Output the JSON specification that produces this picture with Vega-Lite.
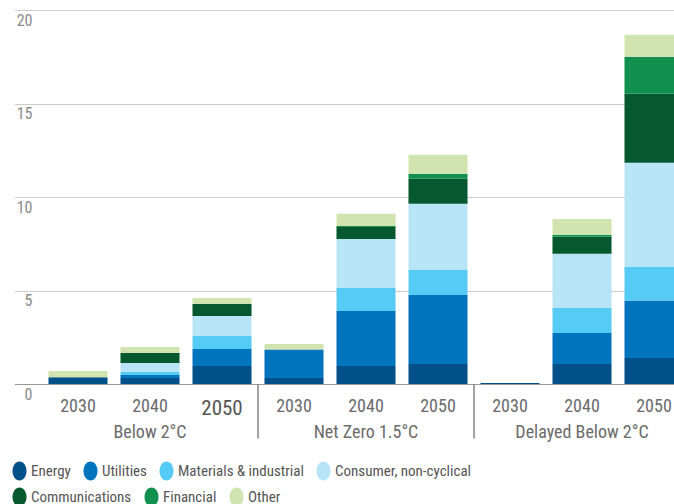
{
  "$schema": "https://vega.github.io/schema/vega-lite/v6.json",
  "width": 703,
  "height": 374,
  "padding": {"left": 9.5, "top": 10, "right": 0, "bottom": 0},
  "config": {
    "view": {"stroke": null},
    "font": "Roboto Condensed, Liberation Sans Narrow",
    "legend": {
      "title": null,
      "orient": "none",
      "direction": "horizontal",
      "symbolType": "M0,-1A0.737,1,0,1,1,0,1A0.737,1,0,1,1,0,-1Z",
      "symbolSize": 361,
      "symbolStrokeWidth": 0,
      "symbolOpacity": 1,
      "labelFontSize": 15,
      "labelColor": "#555555",
      "labelOffset": 2,
      "labelLimit": 300,
      "columnPadding": 10
    }
  },
  "data": {
    "values": [
      {"scenario": "Below 2°C", "bar": "Below 2°C|2030", "sector": "Energy", "value": 0.36},
      {"scenario": "Below 2°C", "bar": "Below 2°C|2030", "sector": "Other", "value": 0.34},
      {"scenario": "Below 2°C", "bar": "Below 2°C|2040", "sector": "Energy", "value": 0.32},
      {"scenario": "Below 2°C", "bar": "Below 2°C|2040", "sector": "Utilities", "value": 0.16},
      {"scenario": "Below 2°C", "bar": "Below 2°C|2040", "sector": "Materials & industrial", "value": 0.16},
      {"scenario": "Below 2°C", "bar": "Below 2°C|2040", "sector": "Consumer, non-cyclical", "value": 0.48},
      {"scenario": "Below 2°C", "bar": "Below 2°C|2040", "sector": "Communications", "value": 0.54},
      {"scenario": "Below 2°C", "bar": "Below 2°C|2040", "sector": "Other", "value": 0.32},
      {"scenario": "Below 2°C", "bar": "Below 2°C|2050", "sector": "Energy", "value": 0.96},
      {"scenario": "Below 2°C", "bar": "Below 2°C|2050", "sector": "Utilities", "value": 0.91},
      {"scenario": "Below 2°C", "bar": "Below 2°C|2050", "sector": "Materials & industrial", "value": 0.70},
      {"scenario": "Below 2°C", "bar": "Below 2°C|2050", "sector": "Consumer, non-cyclical", "value": 1.07},
      {"scenario": "Below 2°C", "bar": "Below 2°C|2050", "sector": "Communications", "value": 0.64},
      {"scenario": "Below 2°C", "bar": "Below 2°C|2050", "sector": "Other", "value": 0.32},
      {"scenario": "Net Zero 1.5°C", "bar": "Net Zero 1.5°C|2030", "sector": "Energy", "value": 0.32},
      {"scenario": "Net Zero 1.5°C", "bar": "Net Zero 1.5°C|2030", "sector": "Utilities", "value": 1.52},
      {"scenario": "Net Zero 1.5°C", "bar": "Net Zero 1.5°C|2030", "sector": "Other", "value": 0.30},
      {"scenario": "Net Zero 1.5°C", "bar": "Net Zero 1.5°C|2040", "sector": "Energy", "value": 0.96},
      {"scenario": "Net Zero 1.5°C", "bar": "Net Zero 1.5°C|2040", "sector": "Utilities", "value": 2.94},
      {"scenario": "Net Zero 1.5°C", "bar": "Net Zero 1.5°C|2040", "sector": "Materials & industrial", "value": 1.24},
      {"scenario": "Net Zero 1.5°C", "bar": "Net Zero 1.5°C|2040", "sector": "Consumer, non-cyclical", "value": 2.62},
      {"scenario": "Net Zero 1.5°C", "bar": "Net Zero 1.5°C|2040", "sector": "Communications", "value": 0.64},
      {"scenario": "Net Zero 1.5°C", "bar": "Net Zero 1.5°C|2040", "sector": "Financial", "value": 0.05},
      {"scenario": "Net Zero 1.5°C", "bar": "Net Zero 1.5°C|2040", "sector": "Other", "value": 0.65},
      {"scenario": "Net Zero 1.5°C", "bar": "Net Zero 1.5°C|2050", "sector": "Energy", "value": 1.07},
      {"scenario": "Net Zero 1.5°C", "bar": "Net Zero 1.5°C|2050", "sector": "Utilities", "value": 3.69},
      {"scenario": "Net Zero 1.5°C", "bar": "Net Zero 1.5°C|2050", "sector": "Materials & industrial", "value": 1.34},
      {"scenario": "Net Zero 1.5°C", "bar": "Net Zero 1.5°C|2050", "sector": "Consumer, non-cyclical", "value": 3.54},
      {"scenario": "Net Zero 1.5°C", "bar": "Net Zero 1.5°C|2050", "sector": "Communications", "value": 1.33},
      {"scenario": "Net Zero 1.5°C", "bar": "Net Zero 1.5°C|2050", "sector": "Financial", "value": 0.27},
      {"scenario": "Net Zero 1.5°C", "bar": "Net Zero 1.5°C|2050", "sector": "Other", "value": 1.02},
      {"scenario": "Delayed Below 2°C", "bar": "Delayed Below 2°C|2030", "sector": "Energy", "value": 0.05},
      {"scenario": "Delayed Below 2°C", "bar": "Delayed Below 2°C|2040", "sector": "Energy", "value": 1.07},
      {"scenario": "Delayed Below 2°C", "bar": "Delayed Below 2°C|2040", "sector": "Utilities", "value": 1.66},
      {"scenario": "Delayed Below 2°C", "bar": "Delayed Below 2°C|2040", "sector": "Materials & industrial", "value": 1.34},
      {"scenario": "Delayed Below 2°C", "bar": "Delayed Below 2°C|2040", "sector": "Consumer, non-cyclical", "value": 2.89},
      {"scenario": "Delayed Below 2°C", "bar": "Delayed Below 2°C|2040", "sector": "Communications", "value": 0.91},
      {"scenario": "Delayed Below 2°C", "bar": "Delayed Below 2°C|2040", "sector": "Financial", "value": 0.11},
      {"scenario": "Delayed Below 2°C", "bar": "Delayed Below 2°C|2040", "sector": "Other", "value": 0.85},
      {"scenario": "Delayed Below 2°C", "bar": "Delayed Below 2°C|2050", "sector": "Energy", "value": 1.39},
      {"scenario": "Delayed Below 2°C", "bar": "Delayed Below 2°C|2050", "sector": "Utilities", "value": 3.07},
      {"scenario": "Delayed Below 2°C", "bar": "Delayed Below 2°C|2050", "sector": "Materials & industrial", "value": 1.80},
      {"scenario": "Delayed Below 2°C", "bar": "Delayed Below 2°C|2050", "sector": "Consumer, non-cyclical", "value": 5.57},
      {"scenario": "Delayed Below 2°C", "bar": "Delayed Below 2°C|2050", "sector": "Communications", "value": 3.69},
      {"scenario": "Delayed Below 2°C", "bar": "Delayed Below 2°C|2050", "sector": "Financial", "value": 1.98},
      {"scenario": "Delayed Below 2°C", "bar": "Delayed Below 2°C|2050", "sector": "Other", "value": 1.18}
    ]
  },
  "layer": [
    {
      "transform": [
        {"calculate": "indexof(['Energy', 'Utilities', 'Materials & industrial', 'Consumer, non-cyclical', 'Communications', 'Financial', 'Other'], datum.sector)", "as": "stackRank"}
      ],
      "mark": {"type": "bar"},
      "encoding": {
        "x": {
          "field": "bar",
          "type": "nominal",
          "scale": {
            "type": "band",
            "domain": ["Below 2°C|2030", "Below 2°C|2040", "Below 2°C|2050", "Net Zero 1.5°C|2030", "Net Zero 1.5°C|2040", "Net Zero 1.5°C|2050", "Delayed Below 2°C|2030", "Delayed Below 2°C|2040", "Delayed Below 2°C|2050"],
            "paddingInner": 0.18,
            "paddingOuter": 0.472
          },
          "axis": {
            "title": null,
            "orient": "bottom",
            "labelExpr": "split(datum.label, '|')[1]",
            "labelAngle": 0,
            "ticks": false,
            "tickSize": 0,
            "labelPadding": 13,
            "labelBaseline": "top",
            "labelFontSize": {"condition": {"test": "datum.value == 'Below 2°C|2050'", "value": 21}, "value": 18},
            "labelColor": {"condition": {"test": "datum.value == 'Below 2°C|2050'", "value": "#555555"}, "value": "#6b6b6b"},
            "domain": true,
            "domainColor": "#999999",
            "domainWidth": 1.2,
            "grid": false
          }
        },
        "y": {
          "field": "value",
          "type": "quantitative",
          "stack": "zero",
          "scale": {"domain": [0, 20], "nice": false},
          "axis": {
            "title": null,
            "values": [0, 5, 10, 15, 20],
            "orient": "left",
            "ticks": false,
            "tickSize": 0,
            "domain": false,
            "grid": true,
            "gridColor": "#cccccc",
            "gridWidth": 1.2,
            "labelAlign": "right",
            "labelBaseline": "top",
            "labelPadding": -17.5,
            "labelOffset": 2,
            "labelFontSize": 16,
            "labelColor": "#8a8a8a"
          }
        },
        "color": {
          "field": "sector",
          "type": "nominal",
          "scale": {
            "domain": ["Energy", "Utilities", "Materials & industrial", "Consumer, non-cyclical", "Communications", "Financial", "Other"],
            "range": ["#00508a", "#0075be", "#55cbf5", "#b8e4f8", "#06582f", "#11904f", "#d1e4b0"]
          },
          "legend": null
        },
        "order": {"field": "stackRank", "type": "quantitative", "sort": "ascending"}
      }
    },
    {
      "mark": {"type": "bar", "opacity": 0},
      "encoding": {
        "x": {
          "field": "scenario",
          "type": "nominal",
          "scale": {
            "type": "band",
            "domain": ["Below 2°C", "Net Zero 1.5°C", "Delayed Below 2°C"],
            "paddingInner": 0,
            "paddingOuter": 0.1273
          },
          "axis": {
            "title": null,
            "orient": "bottom",
            "labelAngle": 0,
            "domain": false,
            "grid": false,
            "ticks": false,
            "tickSize": 0,
            "labelPadding": 39,
            "labelBaseline": "top",
            "labelFontSize": 18,
            "labelColor": "#6b6b6b"
          }
        },
        "y": {"datum": 0, "type": "quantitative"}
      }
    },
    {
      "mark": {"type": "bar", "opacity": 0},
      "encoding": {
        "x": {
          "field": "scenario",
          "type": "nominal",
          "scale": {
            "type": "band",
            "domain": ["Below 2°C", "Net Zero 1.5°C", "Delayed Below 2°C"],
            "paddingInner": 0,
            "paddingOuter": 0.1273
          },
          "axis": {
            "title": null,
            "orient": "bottom",
            "values": ["Net Zero 1.5°C", "Delayed Below 2°C"],
            "bandPosition": 0,
            "labels": false,
            "domain": false,
            "grid": false,
            "ticks": true,
            "tickSize": 54,
            "tickColor": "#666666",
            "tickWidth": 1.2
          }
        },
        "y": {"datum": 0, "type": "quantitative"}
      }
    },
    {
      "transform": [{"filter": {"field": "sector", "oneOf": ["Energy", "Utilities", "Materials & industrial", "Consumer, non-cyclical"]}}],
      "mark": {"type": "point", "opacity": 0, "filled": true},
      "encoding": {
        "fill": {
          "field": "sector",
          "type": "nominal",
          "scale": {
            "domain": ["Energy", "Utilities", "Materials & industrial", "Consumer, non-cyclical"],
            "range": ["#00508a", "#0075be", "#55cbf5", "#b8e4f8"]
          },
          "legend": {"legendX": -4.5, "legendY": 451.5}
        }
      }
    },
    {
      "transform": [{"filter": {"field": "sector", "oneOf": ["Communications", "Financial", "Other"]}}],
      "mark": {"type": "point", "opacity": 0, "filled": true},
      "encoding": {
        "fill": {
          "field": "sector",
          "type": "nominal",
          "scale": {
            "domain": ["Communications", "Financial", "Other"],
            "range": ["#06582f", "#11904f", "#d1e4b0"]
          },
          "legend": {"legendX": -4.5, "legendY": 477.5}
        }
      }
    }
  ],
  "resolve": {
    "scale": {"x": "independent", "fill": "independent"},
    "legend": {"fill": "independent"}
  }
}
